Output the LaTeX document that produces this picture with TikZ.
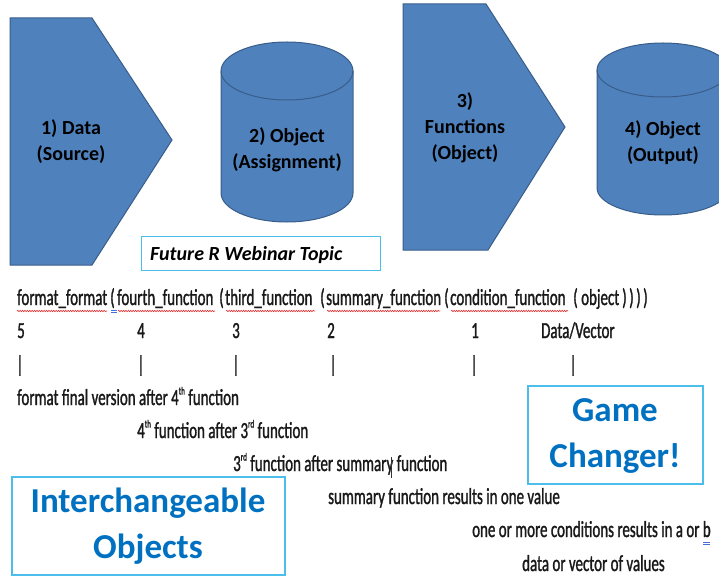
\documentclass[tikz,border=0pt]{standalone}
\usepackage{fontspec}
\setmainfont{Carlito}
\newfontfamily\narrowfont[FakeStretch=0.65, FakeBold=1.2]{Carlito}
\usetikzlibrary{decorations.pathmorphing}

\definecolor{shapeblue}{RGB}{79,129,189}
\definecolor{shapeedge}{RGB}{56,93,138}
\definecolor{boxedge}{RGB}{75,190,235}
\definecolor{titleblue}{RGB}{0,112,192}
\definecolor{squiggle}{RGB}{225,45,45}
\definecolor{markblue}{RGB}{70,110,220}

\tikzset{
  block/.style={fill=shapeblue, draw=shapeedge, line width=1pt},
  blocklabel/.style={font=\bfseries\fontsize{20}{26}\selectfont, align=center, text=black},
  code/.style={font=\narrowfont\fontsize{23}{26}\selectfont, anchor=base west, inner sep=0pt, text=black!90},
  tick/.style={font=\narrowfont\fontsize{23}{26}\selectfont, anchor=base, inner sep=0pt, text=black!90},
  callout/.style={draw=boxedge, line width=1.2pt},
  bigblue/.style={font=\bfseries\fontsize{35}{46}\selectfont, text=titleblue, align=center},
  spell/.style={draw=squiggle, line width=0.6pt, decorate, decoration={snake, amplitude=0.7pt, segment length=2.4pt}},
}

% small raised ordinal
\newcommand{\ord}[1]{\raisebox{0.95ex}{\fontsize{11}{11}\selectfont #1}}

% centre x, top ellipse centre y, height, x radius, y radius
\def\tank(#1,#2)(#3:#4:#5){%
  \fill[shapeblue] (#1-#4,#2) rectangle (#1+#4,#2+#3);
  \fill[shapeblue] (#1,#2+#3) ellipse (#4 and #5);
  \fill[shapeblue] (#1,#2) ellipse (#4 and #5);
  \draw[shapeedge, line width=1pt] (#1-#4,#2) -- (#1-#4,#2+#3) arc (180:0:#4 and #5) -- (#1+#4,#2);
  \draw[shapeedge, line width=1pt] (#1,#2) ellipse (#4 and #5);}

\begin{document}
\begin{tikzpicture}[x=1pt, y=-1pt]
			%%%%% START %%%%%
			\useasboundingbox (0,0) rectangle (719,577);
			
			% the four steps
			\draw[block] (10,18) -- (92,18) -- (172,140) -- (92,265) -- (10,265) -- cycle;
			\node[blocklabel] (data) at (71,142) {1) Data\\(Source)};
			
			\tank(287,71)(122:66:29)
			\node[blocklabel] (assign) at (287,150) {2) Object\\(Assignment)};
			
			\draw[block] (403,4) -- (486,4) -- (565,127) -- (488,250) -- (403,250) -- cycle;
			\node[blocklabel] (funcs) at (465,128) {3)\\Functions\\(Object)};
			
			\tank(663,70)(118:66:27)
			\node[blocklabel] (output) at (663,143) {4) Object\\(Output)};
			
			\draw[boxedge, line width=1pt] (141,236) rectangle (380,270);
			\node[font=\bfseries\itshape\fontsize{20}{24}\selectfont, anchor=base west, inner sep=0pt] (webinar) at (150,260) {Future R Webinar Topic};
			
			% nested call
			\node[code] (fmt) at (17,305) {format\_format};
			\node[code] (open1) at (110,305) {(};
			\node[code] (fourth) at (117,305) {fourth\_function};
			\node[code] (open2) at (219,305) {(};
			\node[code] (third) at (225,305) {third\_function};
			\node[code] (open3) at (320,305) {(};
			\node[code] (summ) at (326,305) {summary\_function};
			\node[code] (open4) at (444,305) {(};
			\node[code] (cond) at (450,305) {condition\_function};
			\node[code] (open5) at (573,305) {(};
			\node[code] (obj) at (581,305) {object};
			\foreach \x [count=\i] in {622,629,636,643}
				\node[code] (close\i) at (\x,305) {)};
			
			\draw[spell] (17,311) -- (107,311);
			\draw[spell] (118,311) -- (215,311);
			\draw[spell] (226,311) -- (315,311);
			\draw[spell] (327,311) -- (440,311);
			\draw[spell] (451,311) -- (568,311);
			\draw[markblue, line width=0.6pt] (111,310) -- (117,310);
			\draw[markblue, line width=0.6pt] (111,312) -- (117,312);
			
			% order of evaluation
			\node[tick] (n5) at (21,338) {5};
			\node[tick] (n4) at (141,338) {4};
			\node[tick] (n3) at (236,338) {3};
			\node[tick] (n2) at (331,338) {2};
			\node[tick] (n1) at (475,338) {1};
			\node[code] (nv) at (541,338) {Data/Vector};
			
			\node[tick] (b5) at (20,372) {|};
			\node[tick] (b4) at (141,372) {|};
			\node[tick] (b3) at (236,372) {|};
			\node[tick] (b2) at (333,372) {|};
			\node[tick] (b1) at (474,372) {|};
			\node[tick] (bv) at (573,372) {|};
			
			\node[code] (l5) at (17,405) {format final version after 4\ord{th} function};
			\node[code] (l4) at (137,438) {4\ord{th} function after 3\ord{rd} function};
			\node[code] (l3) at (233,471) {3\ord{rd} function after summary function};
			\node[code] (l2) at (328,504) {summary function results in one value};
			\node[code] (l1) at (472,537) {one or more conditions results in a or b};
			\node[code] (lv) at (522,571) {data or vector of values};
			
			\draw[black!80, line width=0.6pt] (391,457) -- (391,478);
			\draw[markblue, line width=0.6pt] (703,542) -- (710,542);
			\draw[markblue, line width=0.6pt] (703,544.5) -- (710,544.5);
			
			% call-outs
			\draw[callout] (528,386) rectangle (703,484);
			\node[bigblue] (game) at (615,436) {Game\\Changer!};
			
			\draw[callout] (12,477) rectangle (285,575);
			\node[bigblue] (inter) at (148,526) {Interchangeable\\Objects};
			
			%%%%% END %%%%%
\end{tikzpicture}
\end{document}
